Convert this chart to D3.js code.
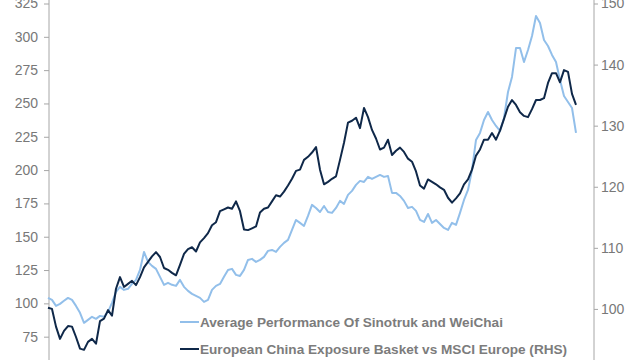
<!DOCTYPE html>
<html>
<head>
<meta charset="utf-8">
<script src="https://cdn.jsdelivr.net/npm/d3@7"></script>
<style>
  body { margin: 0; background: #fff; }
  svg { display: block; font-family: "Liberation Sans", Arial, sans-serif; }
  .axis path, .axis line { stroke: #a6a6a6; }
  .axis text { fill: #787878; font-size: 14px; }
  .legend text { fill: #7c7c7c; font-size: 13.6px; font-weight: bold; }
</style>
</head>
<body>
<svg width="640" height="360"></svg>
<script>
// Average performance of Sinotruk and WeiChai (left axis)
const sinoWeichai = [
	104.1, 102.6, 98.1, 99.6, 101.9, 104.1, 102.6, 98.1, 92.9, 85.4,
	87.6, 89.9, 88.4, 90.6, 89.9, 93.6, 100.4, 108.6, 112.4, 110.1,
	110.9, 114.6, 117.6, 125.1, 138.6, 131.1, 128.1, 125.9, 119.9, 113.9,
	115.4, 113.9, 113.1, 117.6, 112.4, 109.4, 107.1, 105.6, 104.1, 101.1,
	102.6, 110.1, 113.1, 114.6, 119.9, 125.1, 125.9, 121.4, 120.6, 125.1,
	132.6, 133.4, 131.1, 132.6, 134.9, 139.4, 140.1, 138.6, 142.4, 145.4,
	147.6, 155.1, 162.6, 160.4, 158.1, 165.6, 173.9, 171.6, 168.6, 173.1,
	168.6, 167.9, 171.6, 176.9, 174.6, 181.4, 184.4, 188.9, 191.9, 191.1,
	194.9, 193.4, 194.9, 196.4, 194.9, 195.6, 182.9, 182.9, 180.6, 176.9,
	171.6, 172.4, 169.4, 162.6, 161.1, 167.1, 160.4, 162.6, 159.6, 156.6,
	155.1, 160.4, 158.9, 167.9, 177.6, 185.1, 200.1, 222.6, 227.9, 237.6,
	243.6, 237.6, 233.1, 229.4, 239.1, 258.6, 269.9, 291.6, 291.6, 281.1,
	290.1, 300.6, 315.6, 310.4, 297.6, 293.1, 286.4, 281.1, 267.6, 255.6,
	251.1, 246.6, 227.9
];

// European China exposure basket vs MSCI Europe (right axis)
const chinaBasket = [
	100.2, 100.0, 97.1, 95.1, 96.4, 97.2, 97.1, 95.4, 93.5, 93.3,
	94.6, 95.1, 94.3, 98.0, 98.4, 99.8, 98.9, 103.3, 105.2, 103.6,
	104.1, 104.6, 103.9, 105.2, 106.8, 107.7, 108.6, 109.3, 108.5, 106.7,
	106.4, 105.9, 105.5, 107.2, 109.0, 109.8, 110.1, 109.4, 110.9, 111.6,
	112.4, 113.7, 114.2, 116.0, 116.3, 116.6, 116.4, 117.6, 116.0, 113.0,
	112.9, 113.2, 113.5, 115.8, 116.4, 116.6, 117.6, 118.6, 118.4, 119.2,
	120.2, 121.3, 122.6, 122.8, 124.4, 124.9, 125.6, 126.5, 122.8, 120.4,
	120.8, 121.3, 121.7, 124.4, 127.2, 130.5, 130.8, 131.3, 129.6, 132.9,
	131.4, 129.3, 127.9, 126.1, 126.4, 127.7, 125.2, 125.9, 126.4, 125.7,
	124.6, 124.1, 122.5, 120.2, 119.7, 121.2, 120.8, 120.4, 119.9, 119.5,
	118.2, 117.4, 118.1, 118.9, 120.4, 121.2, 122.8, 125.1, 126.1, 127.7,
	127.7, 128.8, 127.7, 129.2, 131.1, 133.1, 134.2, 133.4, 132.2, 131.6,
	131.4, 132.7, 134.2, 134.2, 134.5, 137.0, 138.6, 138.6, 137.1, 139.1,
	138.8, 135.2, 133.4
];

const leftTicks = [75, 100, 125, 150, 175, 200, 225, 250, 275, 300, 325];
const rightTicks = [100, 110, 120, 130, 140, 150];

const seriesNames = [
	'Average Performance Of Sinotruk and WeiChai',
	'European China Exposure Basket vs MSCI Europe (RHS)'
];
const seriesColors = ['#92bfea', '#0f2849'];

const svg = d3.select('svg');

const plot = { left: 49, right: 594, top: 3.5, bottom: 370 };
const dataRight = 576;

const x = d3.scaleLinear()
	.domain([0, sinoWeichai.length - 1])
	.range([plot.left - 1, dataRight]);

const yLeft = d3.scaleLinear()
	.domain([50, 325])
	.range([plot.bottom, plot.top]);

const yRight = d3.scaleLinear()
	.domain([90, 150])
	.range([plot.bottom, plot.top]);

// axes
svg.append('g')
	.attr('class', 'axis')
	.attr('transform', `translate(${plot.left}, 0)`)
	.call(d3.axisLeft(yLeft).tickValues(leftTicks).tickSizeOuter(0).tickSize(5).tickPadding(6))
	.call((g) => g.select('.domain').attr('d', `M0,${plot.top - 4}V${plot.bottom}`));

svg.append('g')
	.attr('class', 'axis')
	.attr('transform', `translate(${plot.right}, 0)`)
	.call(d3.axisRight(yRight).tickValues(rightTicks).tickSizeOuter(0).tickSize(4).tickPadding(3))
	.call((g) => g.select('.domain').attr('d', `M0,${plot.top - 4}V${plot.bottom}`));

// lines
const lineLeft = d3.line()
	.x((d, i) => x(i))
	.y((d) => yLeft(d));

const lineRight = d3.line()
	.x((d, i) => x(i))
	.y((d) => yRight(d));

svg.append('path')
	.datum(sinoWeichai)
	.attr('d', lineLeft)
	.attr('fill', 'none')
	.attr('stroke', seriesColors[0])
	.attr('stroke-width', 2)
	.attr('stroke-linejoin', 'round');

svg.append('path')
	.datum(chinaBasket)
	.attr('d', lineRight)
	.attr('fill', 'none')
	.attr('stroke', seriesColors[1])
	.attr('stroke-width', 2)
	.attr('stroke-linejoin', 'round');

// legend
const legend = svg.append('g')
	.attr('class', 'legend')
	.attr('transform', 'translate(180, 322)');

const items = legend.selectAll('g')
	.data(seriesNames)
	.enter()
	.append('g')
	.attr('transform', (d, i) => `translate(0, ${i * 27})`);

items.append('line')
	.attr('x1', 0)
	.attr('x2', 19)
	.attr('stroke', (d, i) => seriesColors[i])
	.attr('stroke-width', 2);

items.append('text')
	.text((d) => d)
	.attr('x', 20)
	.attr('y', 5);
</script>
</body>
</html>
